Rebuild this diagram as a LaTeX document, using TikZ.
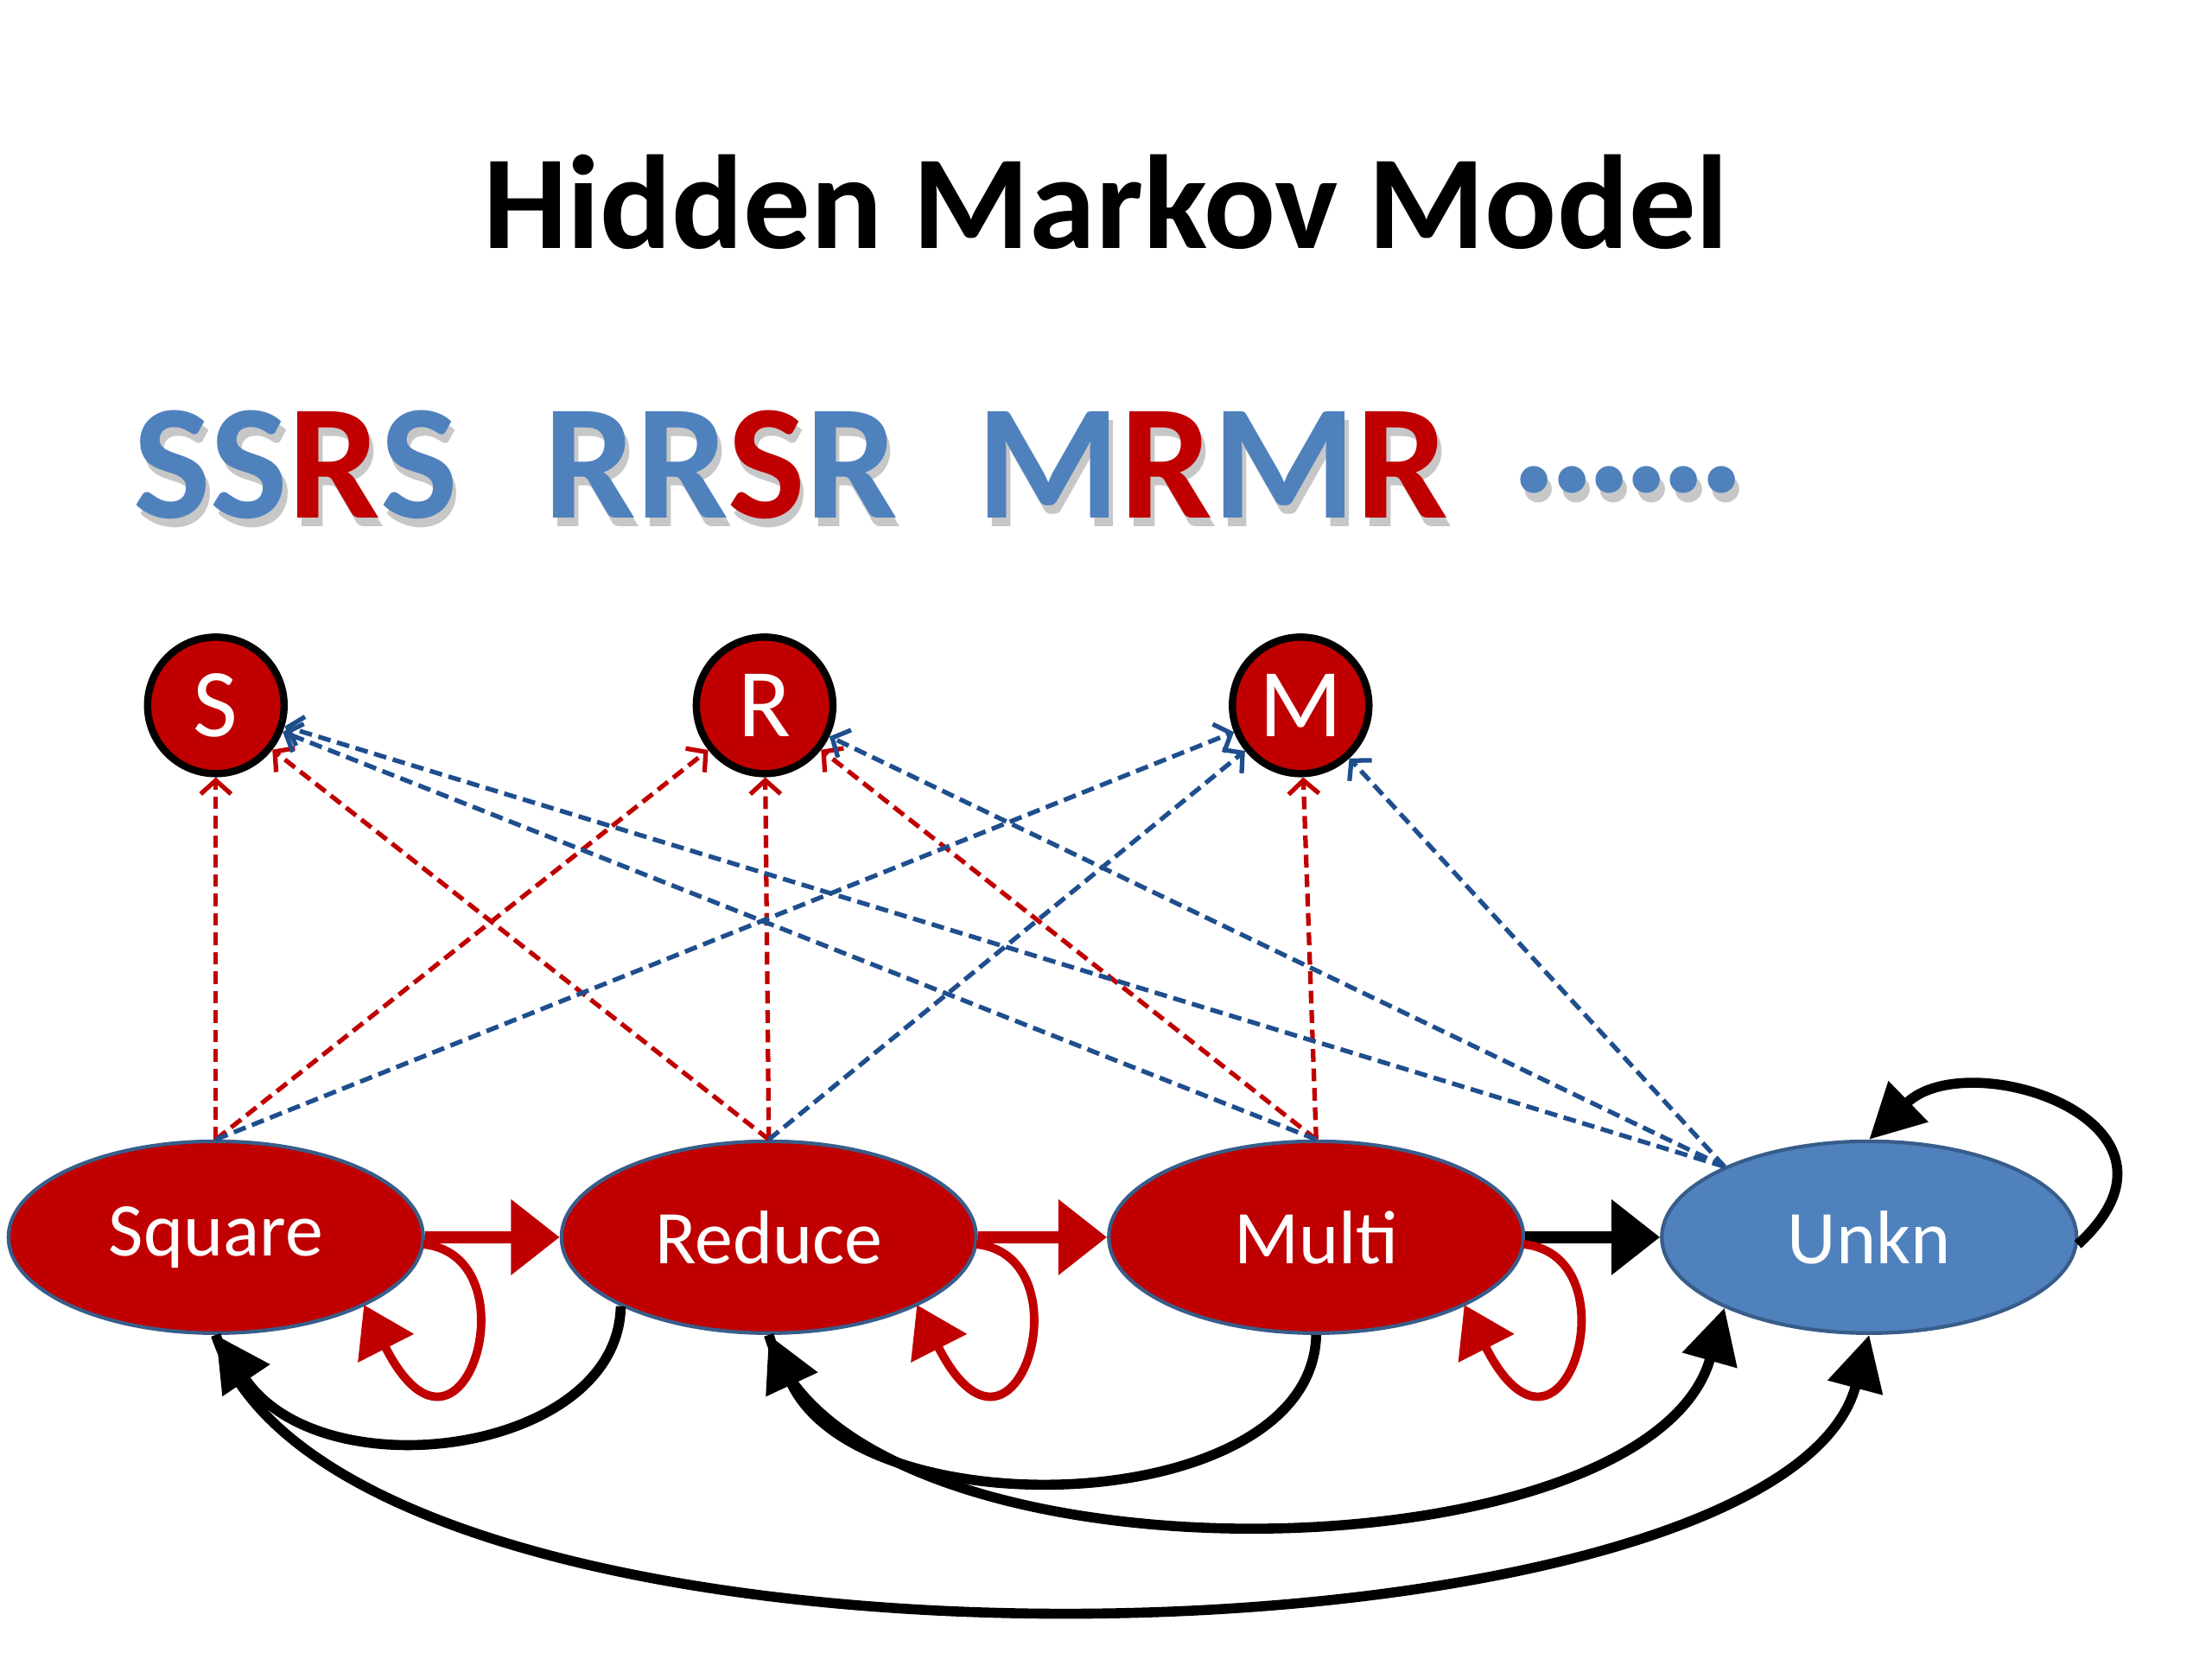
\documentclass[tikz,border=0pt]{standalone}
\usepackage{fontspec}
\setmainfont{Carlito}
\usetikzlibrary{shapes.geometric,arrows.meta}

\definecolor{hmmred}{HTML}{C00000}
\definecolor{hmmblue}{HTML}{4F81BD}
\definecolor{hmmedge}{HTML}{385D8A}
\definecolor{emitblue}{HTML}{1F4E8D}
\newcommand{\bl}[1]{\textcolor{hmmblue}{#1}}
\newcommand{\rd}[1]{\textcolor{hmmred}{#1}}
% gray copy behind, a little lower
\newcommand{\shadowed}[2]{\makebox[0pt][l]{\kern1.5pt\raisebox{-3pt}{\textcolor{black!22}{#1}}}#2}
\newcommand{\dotrow}{.\kern-3.7pt.\kern-3.7pt.\kern-3.7pt.\kern-3.7pt.\kern-3.7pt.}

\tikzset{
  state/.style={ellipse, draw=hmmedge, line width=1.2pt, fill=hmmred, text=white,
    minimum width=4.8cm, minimum height=2.22cm, inner sep=0pt, font=\fontsize{25}{29}\selectfont},
  symb/.style={circle, draw=black, line width=2.4pt, fill=hmmred, text=white,
    minimum size=1.58cm, inner sep=0pt, font=\fontsize{32}{36}\selectfont},
  seq/.style={anchor=base west, inner sep=0pt, font=\fontsize{54}{58}\selectfont\bfseries},
  emitred/.style={draw=hmmred, line width=1.5pt, dash pattern=on 4.2pt off 2.2pt,
    -{Straight Barb[length=4.5pt,width=10pt]}},
  emitblu/.style={emitred, draw=emitblue},
  fwd/.style={line width=3.8pt, -{Triangle[length=16pt,width=24pt]}},
  back/.style={line width=3.3pt, -{Triangle[length=18pt,width=18pt]}},
  selfloop/.style={draw=hmmred, line width=2.8pt, -{Triangle[length=16pt,width=20pt]}}
}

\begin{document}
\begin{tikzpicture}
[x=0.016327cm, y=-0.016327cm]
\useasboundingbox (0,0) rectangle (1568,1176);
%________________________________________________%
\draw (784,176) node[anchor=base, font=\fontsize{44}{48}\selectfont\bfseries] (title) {Hidden Markov Model};
%________________________________________________%
\node[seq] (w1) at (94,367) {\shadowed{SSRS}{\bl{SS}\rd{R}\bl{S}}};
\node[seq] (w2) at (385,367) {\shadowed{RRSR}{\bl{RR}\rd{S}\bl{R}}};
\node[seq] (w3) at (692,367) {\shadowed{MRMR}{\bl{M}\rd{R}\bl{M}\rd{R}}};
\node[seq, font=\fontsize{60}{62}\selectfont\bfseries] (w4) at (1070,349)
  {\shadowed{\dotrow}{\bl{\dotrow}}};
%________________________________________________%
\node[symb] (S) at (153,500) {S};
\node[symb] (R) at (542,500) {R};
\node[symb] (M) at (922,500) {M};
%________________________________________________%
\node[state] (sq) at (153,877) {Square};
\node[state] (rd) at (545,877) {Reduce};
\node[state] (mu) at (933,877) {Multi};
\node[state, fill=hmmblue] (un) at (1325,877) {Unkn};
%________________________________________________%
% emissions
\draw[emitred] (sq.north) -- (S);
\draw[emitred] (sq.north) -- (R);
\draw[emitred] (rd.north) -- (S);
\draw[emitred] (rd.north) -- (R);
\draw[emitred] (mu.north) -- (R);
\draw[emitred] (mu.north) -- (M);
\draw[emitblu] (sq.north) -- (M);
\draw[emitblu] (rd.north) -- (M);
\draw[emitblu] (mu.north) -- (S);
\draw[emitblu] (un.154) -- (S);
\draw[emitblu] (un.154) -- (R);
\draw[emitblu] (un.154) -- (M);
%________________________________________________%
% transitions
\draw[fwd, hmmred] (sq) -- (rd);
\draw[fwd, hmmred] (rd) -- (mu);
\draw[fwd] (mu) -- (un);
\foreach \n in {sq,rd,mu}
  \draw[selfloop] ([shift={(147,5)}]\n.center) .. controls +(80,8) and +(70,138) .. ([shift={(105,48)}]\n.center);
\draw[back] (un.-2) .. controls +(95,-87) and +(70,-68) .. (un.north);
\draw[back] (rd.205) .. controls +(-2,105) and +(75,112) .. (sq.south);
\draw[back] (mu.south) .. controls +(-3,130) and +(65,140) .. (rd.south);
\draw[back] (rd.south) .. controls +(55,185) and +(-55,195) .. (un.206);
\draw[back] (sq.south) .. controls +(87,270) and +(-65,245) .. (un.south);
%________________________________________________%
\end{tikzpicture}
\end{document}
